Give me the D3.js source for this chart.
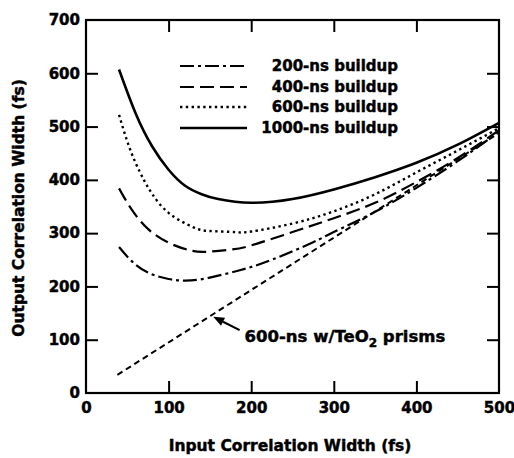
<!DOCTYPE html>
<html><head><meta charset="utf-8">
<script src="https://cdn.jsdelivr.net/npm/d3@7"></script>
<style>body{margin:0;background:#fff}svg{display:block}text{font-family:"DejaVu Sans",sans-serif;font-weight:bold;fill:#000;stroke:#000;stroke-width:0.45px}</style>
</head><body>
<script>
const xTicks = [0,100,200,300,400,500];
const yTicks = [0,100,200,300,400,500,600,700];
const seriesNames = ["200-ns buildup","400-ns buildup","600-ns buildup","1000-ns buildup"];
const s200 = [[40,274],[55,248],[75,226],[100,214],[120,211],[145,215],[185,230],[225,250],[275,283],[300,302],[350,340],[400,385],[450,435],[500,490]];
const s400 = [[40,384],[55,345],[75,308],[100,282],[125,268],[145,265],[175,269],[200,277],[250,302],[300,328],[350,357],[400,396],[450,441],[500,493]];
const s600 = [[40,522],[50,472],[60,432],[70,400],[80,374],[100,338],[130,311],[150,304],[180,302],[200,303],[250,318],[300,341],[350,373],[400,414],[450,455],[500,497]];
const s1000 = [[40,607],[60,525],[80,463],[100,419],[120,389],[140,373],[160,364],[200,357],[250,364],[300,382],[350,405],[400,432],[450,466],[500,507]];
const teo2 = [[38,34],[500,488]];
const teo2Label = "600-ns w/TeO";

const W=514,H=458;
const svg=d3.select("body").append("svg").attr("width",W).attr("height",H);
const x=d3.scaleLinear().domain([0,500]).range([86,499]);
const y=d3.scaleLinear().domain([0,700]).range([393,20]);

svg.append("rect").attr("x",86).attr("y",20).attr("width",413).attr("height",373)
  .attr("fill","none").attr("stroke","#000").attr("stroke-width",2.2);

const tl=12;
const axB=svg.append("g").attr("transform","translate(0,393)").call(d3.axisBottom(x).tickValues(xTicks).tickSizeInner(-tl).tickSizeOuter(0).tickPadding(9));
const axT=svg.append("g").attr("transform","translate(0,20)").call(d3.axisTop(x).tickValues(xTicks.slice(1,-1)).tickSizeInner(-tl).tickSizeOuter(0).tickFormat(""));
const axL=svg.append("g").attr("transform","translate(86,0)").call(d3.axisLeft(y).tickValues(yTicks).tickSizeInner(-tl).tickSizeOuter(0).tickPadding(6));
const axR=svg.append("g").attr("transform","translate(499,0)").call(d3.axisRight(y).tickValues(yTicks.slice(1,-1)).tickSizeInner(-tl).tickSizeOuter(0).tickFormat(""));
[axB,axT,axL,axR].forEach(a=>{a.select(".domain").remove();a.selectAll("line").attr("stroke","#000").attr("stroke-width",2);
  a.selectAll("text").attr("font-family","DejaVu Sans").attr("font-weight","bold").attr("font-size",15).attr("fill","#000");});
axB.selectAll(".tick line").filter(d=>d===0||d===500).remove();
axL.selectAll(".tick line").filter(d=>d===0||d===700).remove();

const line=d3.line().x(d=>x(d[0])).y(d=>y(d[1])).curve(d3.curveNatural);
const styles=[
  {data:s200,dash:"14,4,3,4",w:2.2},
  {data:s400,dash:"14,6",w:2.2},
  {data:s600,dash:"2.4,3.4",w:2.4},
  {data:s1000,dash:null,w:2.6}
];
styles.forEach(s=>{
  svg.append("path").attr("d",line(s.data)).attr("fill","none").attr("stroke","#000")
    .attr("stroke-width",s.w).attr("stroke-dasharray",s.dash);
});
svg.append("path").attr("d",d3.line().x(d=>x(d[0])).y(d=>y(d[1]))(teo2)).attr("fill","none")
  .attr("stroke","#000").attr("stroke-width",2).attr("stroke-dasharray","6,4");

const ly=[66,87,107,128];
styles.forEach((s,i)=>{
  svg.append("line").attr("x1",180).attr("x2",247).attr("y1",ly[i]).attr("y2",ly[i])
    .attr("stroke","#000").attr("stroke-width",s.w).attr("stroke-dasharray",s.dash);
  svg.append("text").attr("x",398).attr("y",ly[i]+5).attr("text-anchor","end").attr("font-size",15).text(seriesNames[i]);
});

const tip=[x(154),y(143)], tail=[x(186),y(118)];
const ang=Math.atan2(tip[1]-tail[1],tip[0]-tail[0]);
const ah=11, aw=4.5;
const bx=tip[0]-ah*Math.cos(ang), by=tip[1]-ah*Math.sin(ang);
svg.append("line").attr("x1",tail[0]).attr("y1",tail[1]).attr("x2",bx).attr("y2",by).attr("stroke","#000").attr("stroke-width",2.2);
svg.append("path").attr("d",`M${tip[0]},${tip[1]}L${bx+aw*Math.sin(ang)},${by-aw*Math.cos(ang)}L${bx-aw*Math.sin(ang)},${by+aw*Math.cos(ang)}Z`).attr("fill","#000");
const lt=svg.append("text").attr("x",x(192)).attr("y",y(98)+1).attr("font-size",16.5);
lt.append("tspan").text(teo2Label);
lt.append("tspan").attr("dy",5).attr("font-size",12).text("2");
lt.append("tspan").attr("dy",-5).text(" prisms");

svg.append("text").attr("x",290).attr("y",451).attr("text-anchor","middle").attr("font-size",15.5).text("Input Correlation Width (fs)");
svg.append("text").attr("transform","translate(24,208) rotate(-90)").attr("text-anchor","middle").attr("font-size",15.5).text("Output Correlation Width (fs)");
</script>
</body></html>
